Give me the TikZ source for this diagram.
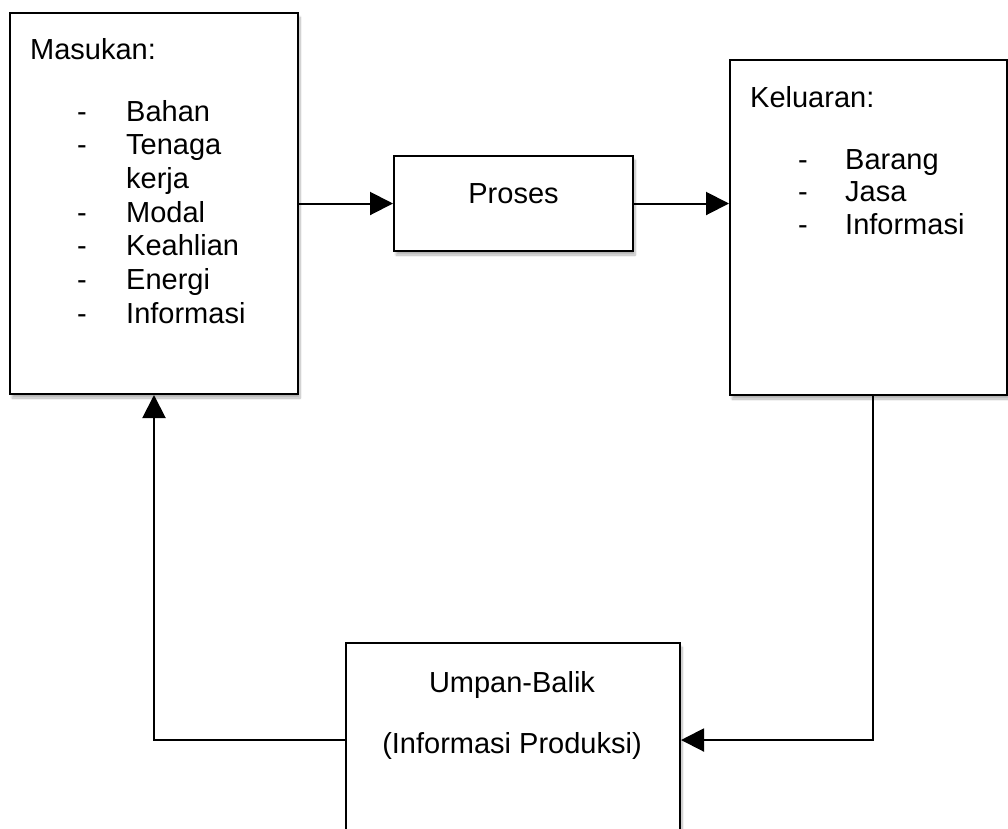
\documentclass[tikz,border=0pt]{standalone}
\usepackage{fontspec}
\setmainfont{Liberation Sans}
\usetikzlibrary{arrows.meta, positioning, shadows.blur}

\tikzset{
  box/.style={draw, line width=2pt, fill=white, anchor=north west, inner sep=0pt,
    blur shadow={shadow xshift=2pt, shadow yshift=-4pt, shadow blur steps=8, shadow opacity=30}},
  txt/.style={inner sep=0pt, font=\fontsize{29}{33.5}\selectfont},
  link/.style={line width=2pt},
  arr/.style={link, -{Triangle[length=23pt, width=23pt]}}
}

\begin{document}
\begin{tikzpicture}[x=1pt, y=-1pt]
    \path[use as bounding box, clip] (0,0) rectangle (1008,828);
    % Boxes
    \node[box, minimum width=288pt, minimum height=381pt] (masukan) at (9,12) {};
    \node[box, minimum width=239pt, minimum height=95pt] (proses) at (393,155) {};
    \node[box, minimum width=277pt, minimum height=335pt] (keluaran) at (729,59) {};
    \node[box, minimum width=334pt, minimum height=220pt] (umpan) at (345,642) {};
    % Masukan
    \node[txt, anchor=base west] (masukanJudul) at (30,59) {Masukan:};
    \foreach \d/\t [count=\i] in {-/Bahan, -/Tenaga, /kerja, -/Modal, -/Keahlian, -/Energi, -/Informasi} {
      \node[txt, anchor=base west] (inD\i) at (77, {121+(\i-1)*33.7}) {\d};
      \node[txt, anchor=base west] (in\i) at (126, {121+(\i-1)*33.7}) {\t};
    }
    % Proses
    \node[txt, anchor=base] (prosesTxt) at (proses.center) {Proses};
    % Keluaran
    \node[txt, anchor=base west] (keluaranJudul) at (750,107) {Keluaran:};
    \foreach \t [count=\i] in {Barang, Jasa, Informasi} {
      \node[txt, anchor=base west] (outD\i) at (798, {169+(\i-1)*32.5}) {-};
      \node[txt, anchor=base west] (out\i) at (845, {169+(\i-1)*32.5}) {\t};
    }
    % Umpan-Balik
    \node[txt, anchor=base] (umpanJudul) at (512,692) {Umpan-Balik};
    \node[txt, anchor=base] (umpanSub) at (512,753) {(Informasi Produksi)};
    % Arrows
    \draw[arr] (masukan.east) -- (proses.west);
    \draw[arr] (proses.east) -- (proses.east -| keluaran.west);
    \coordinate (fbR) at (873,740);
    \coordinate (fbL) at (154,740);
    \draw[arr] (fbR |- keluaran.south) -- (fbR) -- (fbR -| umpan.east);
    \draw[arr] (fbL -| umpan.west) -- (fbL) -- (fbL |- masukan.south);
\end{tikzpicture}
\end{document}
